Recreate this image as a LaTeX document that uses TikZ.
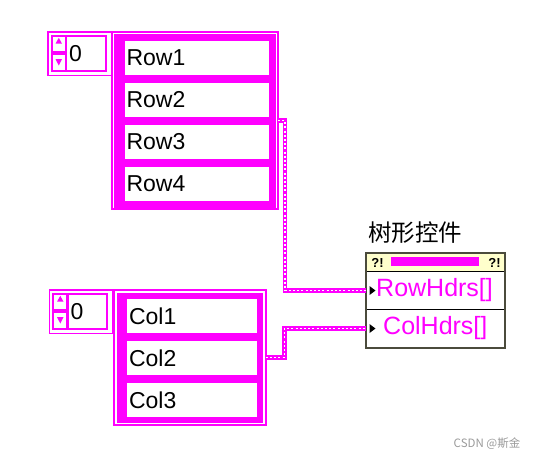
\documentclass[tikz,border=0pt]{standalone}
\usepackage{fontspec}
\setmainfont{Liberation Sans}
\newfontfamily\cjk{Noto Sans CJK SC}
\definecolor{mag}{HTML}{FF00FF}
\definecolor{tborder}{HTML}{4B4B3C}
\definecolor{hdr}{HTML}{FFFFCC}
\definecolor{wm}{HTML}{9A9A9A}
\begin{document}
\begin{tikzpicture}[x=1pt,y=-1pt,
  bigfont/.style={font=\fontsize{23}{26}\selectfont},
  arrframe/.style={draw=mag, line width=1.6pt, inner sep=0pt, outer sep=0pt},
  rowcell/.style={bigfont, fill=white, minimum height=34pt, inner ysep=0pt, inner xsep=1.5pt, text width=141pt, align=left},
  colcell/.style={bigfont, fill=white, minimum height=34pt, inner ysep=0pt, inner xsep=2pt, text width=126pt, align=left},
  wire/.style={draw=mag, line width=4.6pt, postaction={draw=white, line width=1.5pt, dash pattern=on 2pt off 2.2pt}},
  spinner/.pic={
    \draw[mag, line width=1.5pt] (0.75,0.75) rectangle (64.25,44.25);
    \draw[mag, line width=2pt] (4.7,4.7) rectangle (58.7,40.3);
    \draw[mag, line width=2.5pt] (19,4.7) -- (19,40.3);
    \fill[mag] (8.5,12.7) -- (15,12.7) -- (11.8,6.8) -- cycle;
    \fill[mag] (5.7,20.3) rectangle (17.8,23.7);
    \fill[mag] (8.5,28.2) -- (15,28.2) -- (11.8,34.5) -- cycle;
    \node[bigfont, inner sep=0pt] (-val) at (28.5,23) {0};
  }
]
\useasboundingbox (0,0) rectangle (535,458);

% ---------- Row array ----------
\pic (rowidx) at (47,31) {spinner};
\node[arrframe, minimum width=166.4pt, minimum height=177.4pt] (rowarr) at (195,120.5) {};
\fill[mag] (114,34.3) rectangle (276,207.7);
\node[rowcell] (row1) at (197,58) {Row1};
\node[rowcell] (row2) at (197,100) {Row2};
\node[rowcell] (row3) at (197,142) {Row3};
\node[rowcell] (row4) at (197,184) {Row4};

% ---------- Col array ----------
\pic (colidx) at (48.5,289) {spinner};
\node[arrframe, minimum width=151.7pt, minimum height=135.2pt] (colarr) at (190,357.6) {};
\fill[mag] (116.7,292.7) rectangle (263.3,422.7);
\node[colcell] (col1) at (192,316) {Col1};
\node[colcell] (col2) at (192,358) {Col2};
\node[colcell] (col3) at (192,400) {Col3};

% ---------- Tree control ----------
\node[font=\cjk\fontsize{23.5}{25}\selectfont, inner sep=0pt] (title) at (415,233) {树形控件};
\node[draw=tborder, line width=2pt, fill=white, minimum width=139pt, minimum height=95pt, inner sep=0pt, outer sep=0pt] (tree) at (435.5,300.5) {};
\fill[hdr] (367,254) rectangle (504,271);
\draw[black, line width=1.5pt] (367,271.5) -- (504,271.5);
\draw[black, line width=1.5pt] (367,309.5) -- (504,309.5);
\fill[mag] (391,257) rectangle (479,266);
\node[font=\bfseries\fontsize{13}{13}\selectfont, inner sep=0pt] (hl) at (377.5,262.5) {?!};
\node[font=\bfseries\fontsize{13}{13}\selectfont, inner sep=0pt] (hr) at (494.5,262.5) {?!};
\fill[black] (369.5,286) -- (375.5,290.5) -- (369.5,295) -- cycle;
\fill[black] (369.5,324) -- (375.5,328.5) -- (369.5,333) -- cycle;
\node[font=\fontsize{25}{27}\selectfont, text=mag, anchor=west, inner sep=0pt] (rowhdr) at (376,290.5) {RowHdrs[]};
\node[font=\fontsize{25}{27}\selectfont, text=mag, anchor=west, inner sep=0pt] (colhdr) at (383,328.5) {ColHdrs[]};
\coordinate (rowterm) at (366,290.5);
\coordinate (colterm) at (366,328.5);

% ---------- Wires ----------
\draw[wire] (rowarr.east) -- ++(6.8,0) |- (rowterm);
\draw[wire] (colarr.east) -- ++(18.5,0) |- (colterm);

% ---------- Watermark ----------
\node[font=\cjk\fontsize{11.5}{12}\selectfont, text=wm, inner sep=0pt] (wmark) at (487,444) {CSDN @斯金};
\end{tikzpicture}
\end{document}
